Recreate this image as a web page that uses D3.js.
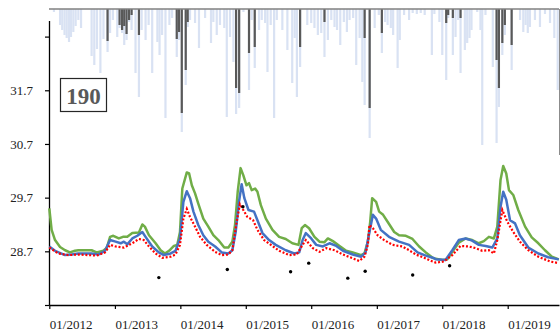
<!DOCTYPE html>
<html lang="en">
<head>
<meta charset="utf-8">
<title>Piezometer 190</title>
<script src="https://cdn.jsdelivr.net/npm/d3@7"></script>
<style>
  body { margin: 0; background: #fff; }
  text { font-family: "Liberation Serif", "Times New Roman", serif; }
</style>
</head>
<body>
<script>

// rain bars (mm): total and effective
var rainDates = ["2012-01-27","2012-03-01","2012-03-13","2012-03-26","2012-04-07","2012-04-20","2012-05-01","2012-05-14","2012-05-27","2012-06-11","2012-06-26","2012-08-24","2012-09-08","2012-09-23","2012-10-12","2012-10-29","2012-11-21","2012-12-05","2012-12-21",
  "2013-01-14","2013-01-27","2013-02-10","2013-02-22","2013-03-07","2013-03-21","2013-04-04","2013-04-26","2013-05-15","2013-05-30","2013-06-21","2013-07-08","2013-07-28","2013-08-26","2013-09-07","2013-09-21","2013-10-10","2013-11-01","2013-11-16","2013-12-12","2013-12-25",
  "2014-01-09","2014-01-31","2014-02-11","2014-02-24","2014-03-24","2014-04-15","2014-05-19","2014-06-21","2014-07-04","2014-07-23","2014-08-10","2014-09-03","2014-09-17","2014-10-05","2014-10-24","2014-11-08","2014-11-25","2014-12-19",
  "2015-01-19","2015-02-03","2015-02-20","2015-03-16","2015-03-31","2015-04-19","2015-05-02","2015-05-20","2015-06-08","2015-06-23","2015-07-24","2015-08-21","2015-09-17","2015-10-01","2015-10-13","2015-10-31","2015-12-10",
  "2016-01-01","2016-01-19","2016-02-07","2016-02-26","2016-03-15","2016-04-03","2016-04-22","2016-05-10","2016-05-24","2016-06-11","2016-07-01","2016-07-18","2016-08-02","2016-08-22","2016-09-08","2016-09-27","2016-10-12","2016-10-25","2016-11-22","2016-12-20",
  "2017-01-12","2017-01-29","2017-02-16","2017-03-02","2017-03-20","2017-04-02","2017-04-27","2017-05-09","2017-06-02","2017-06-30","2017-07-20","2017-08-12","2017-09-03","2017-09-25","2017-11-04","2017-11-18","2017-12-16",
  "2018-01-01","2018-01-23","2018-02-03","2018-03-01","2018-03-16","2018-03-31","2018-04-13","2018-05-07","2018-05-20","2018-06-02","2018-06-13","2018-07-15","2018-08-02","2018-08-12","2018-08-30","2018-10-10","2018-10-31","2018-11-13","2018-12-02","2018-12-16",
  "2019-01-23","2019-03-11","2019-03-29","2019-04-11","2019-04-23","2019-05-05","2019-06-02","2019-06-30","2019-07-28","2019-08-25","2019-09-18","2019-10-07"];
var rainTotal = [3,16,21,26,29,33,28,23,17,11,19,47,56,40,64,30,43,24,11,
  28,19,24,36,31,13,21,64,88,21,31,16,64,33,46,26,109,16,9,48,31,
  123,76,18,11,14,39,9,34,13,26,16,19,108,28,53,105,99,3,
  81,11,59,21,11,14,63,16,109,11,21,41,74,29,88,58,16,
  14,19,26,24,48,31,11,18,21,36,13,23,11,9,56,29,73,96,129,19,
  6,44,13,16,19,26,59,31,6,11,4,5,4,6,46,5,13,
  46,71,9,46,28,11,64,41,34,29,21,3,21,136,6,58,134,98,46,26,
  61,11,23,16,24,18,11,18,5,14,29,81];
var rainEffective = [0,0,0,0,0,0,0,0,0,0,0,0,0,0,0,0,32,0,0,
  0,16,21,17,25,11,6,0,26,0,0,0,0,0,0,0,0,0,0,30,23,
  104,61,13,0,0,0,0,0,0,0,0,0,0,0,0,79,84,0,
  44,0,38,0,0,0,0,0,0,0,0,0,0,0,0,38,0,
  0,0,0,0,13,0,0,0,0,0,0,0,0,0,0,0,0,29,99,0,
  0,24,0,0,0,0,0,0,0,0,0,0,0,0,0,0,0,
  0,14,6,9,0,0,9,0,0,0,0,0,0,0,0,0,51,79,34,16,
  36,0,0,0,0,0,0,0,0,0,0,0];

// groundwater level series [date, m]
var levelGreen = [["2012-01-01",29.50],["2012-01-14",29.10],["2012-02-02",28.91],["2012-03-01",28.78],["2012-03-29",28.72],["2012-04-25",28.68],["2012-05-23",28.71],["2012-06-11",28.72],["2012-08-24",28.72],["2012-09-21",28.68],["2012-10-28",28.71],["2012-11-16",28.76],["2012-12-05",28.97],["2012-12-23",28.99],
  ["2013-01-23",28.94],["2013-02-15",28.97],["2013-03-11",28.97],["2013-04-08",29.04],["2013-05-15",29.05],["2013-06-03",29.20],["2013-06-17",29.16],["2013-07-10",29.00],["2013-08-16",28.85],["2013-09-13",28.72],["2013-10-07",28.66],["2013-10-30",28.71],["2013-11-26",28.80],["2013-12-15",28.82],["2013-12-30",29.06],
  ["2014-01-12",29.87],["2014-02-06",30.17],["2014-02-19",30.15],["2014-03-06",29.93],["2014-03-24",29.78],["2014-04-11",29.59],["2014-05-09",29.31],["2014-06-06",29.16],["2014-07-04",29.00],["2014-08-01",28.91],["2014-09-03",28.77],["2014-09-26",28.77],["2014-10-18",28.88],["2014-11-02",29.19],["2014-11-17",29.81],["2014-12-03",30.25],["2014-12-18",30.12],
  ["2015-01-05",29.93],["2015-01-19",29.97],["2015-02-03",29.84],["2015-02-22",29.87],["2015-03-07",29.81],["2015-03-26",29.56],["2015-04-23",29.31],["2015-05-30",29.10],["2015-07-06",28.97],["2015-08-12",28.93],["2015-09-18",28.85],["2015-10-22",28.82],["2015-11-09",29.13],["2015-11-27",29.19],["2015-12-20",29.13],
  ["2016-01-19",28.97],["2016-02-16",28.88],["2016-03-15",28.87],["2016-04-03",28.94],["2016-05-01",28.89],["2016-06-07",28.80],["2016-07-14",28.71],["2016-08-20",28.68],["2016-10-06",28.63],["2016-10-24",28.66],["2016-11-12",28.88],["2016-11-25",29.25],["2016-12-06",29.69],["2016-12-28",29.62],
  ["2017-01-14",29.44],["2017-02-05",29.38],["2017-03-02",29.25],["2017-04-08",29.06],["2017-05-05",29.00],["2017-06-12",28.99],["2017-07-19",28.93],["2017-08-25",28.79],["2017-10-01",28.68],["2017-11-08",28.58],["2017-11-26",28.56],
  ["2018-01-01",28.54],["2018-01-29",28.55],["2018-02-26",28.69],["2018-04-03",28.86],["2018-05-11",28.94],["2018-06-17",28.91],["2018-07-24",28.85],["2018-08-21",28.89],["2018-09-18",28.97],["2018-10-16",28.94],["2018-11-04",29.16],["2018-11-22",30.03],["2018-12-07",30.29],["2018-12-24",30.15],
  ["2019-01-08",29.84],["2019-02-01",29.75],["2019-03-01",29.47],["2019-04-08",29.16],["2019-05-15",28.96],["2019-06-21",28.85],["2019-07-28",28.72],["2019-09-04",28.60],["2019-10-13",28.55]];

var levelBlue = [["2012-01-01",28.79],["2012-02-02",28.71],["2012-03-29",28.63],["2012-05-05",28.64],["2012-06-11",28.66],["2012-08-24",28.66],["2012-09-30",28.64],["2012-11-07",28.71],["2012-12-05",28.91],
  ["2013-01-05",28.88],["2013-02-02",28.85],["2013-02-20",28.88],["2013-03-11",28.83],["2013-04-08",28.94],["2013-05-06",28.99],["2013-06-03",29.06],["2013-06-21",28.97],["2013-07-28",28.79],["2013-09-03",28.68],["2013-10-01",28.63],["2013-11-08",28.66],["2013-12-05",28.71],["2013-12-30",28.94],
  ["2014-01-18",29.62],["2014-02-06",29.82],["2014-02-24",29.69],["2014-03-15",29.44],["2014-04-11",29.19],["2014-05-09",29.00],["2014-06-06",28.88],["2014-07-14",28.79],["2014-08-20",28.68],["2014-09-26",28.66],["2014-10-18",28.72],["2014-11-06",29.07],["2014-11-24",29.62],["2014-12-09",29.95],["2014-12-24",29.69],
  ["2015-01-16",29.47],["2015-02-16",29.44],["2015-03-07",29.28],["2015-04-04",29.04],["2015-05-11",28.91],["2015-06-17",28.82],["2015-08-12",28.72],["2015-09-28",28.66],["2015-10-26",28.68],["2015-11-14",28.91],["2015-12-02",29.04],
  ["2016-01-01",28.94],["2016-01-29",28.82],["2016-03-06",28.79],["2016-04-12",28.85],["2016-05-20",28.80],["2016-06-26",28.71],["2016-08-20",28.64],["2016-10-06",28.60],["2016-10-30",28.68],["2016-11-21",29.06],["2016-12-10",29.38],["2016-12-28",29.31],
  ["2017-01-23",29.10],["2017-03-10",28.97],["2017-05-05",28.88],["2017-06-30",28.82],["2017-08-16",28.68],["2017-10-01",28.62],["2017-11-17",28.57],["2017-11-26",28.55],
  ["2018-01-19",28.54],["2018-02-26",28.72],["2018-04-03",28.91],["2018-05-11",28.94],["2018-06-17",28.90],["2018-07-24",28.82],["2018-08-31",28.80],["2018-10-07",28.77],["2018-11-04",28.94],["2018-11-22",29.53],["2018-12-07",29.81],["2018-12-24",29.66],
  ["2019-01-14",29.28],["2019-02-11",29.22],["2019-03-10",29.00],["2019-04-26",28.77],["2019-06-21",28.66],["2019-08-15",28.59],["2019-10-13",28.55]];

var levelRed = [["2012-01-01",28.77],["2012-02-20",28.66],["2012-04-16",28.63],["2012-06-11",28.64],["2012-08-05",28.63],["2012-09-21",28.62],["2012-11-07",28.68],["2012-12-05",28.82],
  ["2013-01-05",28.79],["2013-02-20",28.77],["2013-04-08",28.85],["2013-05-15",28.93],["2013-06-11",28.91],["2013-07-10",28.79],["2013-08-16",28.66],["2013-09-22",28.58],["2013-11-08",28.60],["2013-12-05",28.64],["2013-12-30",28.82],
  ["2014-01-18",29.31],["2014-02-06",29.49],["2014-02-24",29.34],["2014-03-24",29.16],["2014-04-21",28.97],["2014-05-28",28.82],["2014-07-14",28.69],["2014-08-20",28.63],["2014-09-26",28.64],["2014-10-18",28.72],["2014-11-10",29.22],["2014-11-29",29.58],["2014-12-18",29.47],
  ["2015-01-10",29.34],["2015-02-11",29.28],["2015-03-07",29.10],["2015-04-13",28.91],["2015-05-21",28.82],["2015-07-06",28.71],["2015-08-31",28.63],["2015-10-12",28.64],["2015-11-14",28.82],["2015-12-02",28.91],
  ["2016-01-10",28.76],["2016-02-16",28.69],["2016-03-25",28.76],["2016-05-10",28.72],["2016-06-26",28.64],["2016-08-20",28.57],["2016-09-25",28.52],["2016-10-24",28.60],["2016-11-12",28.82],["2016-11-21",29.19],["2016-12-10",29.13],
  ["2017-01-05",29.00],["2017-02-11",28.91],["2017-03-30",28.82],["2017-05-24",28.79],["2017-06-30",28.72],["2017-08-07",28.64],["2017-09-22",28.58],["2017-11-08",28.51],["2017-11-26",28.49],
  ["2018-01-10",28.51],["2018-02-26",28.63],["2018-04-13",28.80],["2018-05-29",28.79],["2018-07-06",28.76],["2018-08-12",28.71],["2018-09-18",28.72],["2018-10-16",28.66],["2018-11-04",28.91],["2018-12-02",29.47],["2018-12-30",29.25],
  ["2019-02-01",29.06],["2019-03-10",28.88],["2019-04-26",28.72],["2019-06-21",28.60],["2019-08-25",28.51],["2019-10-13",28.48]];

// field measurements
var obsDates = ["2013-09-03","2014-09-20","2014-12-16","2015-09-08","2015-12-18","2016-07-23","2016-10-28","2017-07-20","2018-02-11"];
var obsLevels = [28.21,28.36,29.53,28.32,28.48,28.20,28.33,28.26,28.43];

var yTickValues = [27.7, 28.7, 29.7, 30.7, 31.7, 32.7];
var yTickLabels = ["", "28.7", "29.7", "30.7", "31.7", ""];
var xTickYears = [2012, 2013, 2014, 2015, 2016, 2017, 2018, 2019];
var stationLabel = "190";

//Width and height
var w = 560;
var h = 335;

var parse = d3.utcParse("%Y-%m-%d");

// 01/2012 tick at 49.3, 01/2019 at 507.7, plot ends at 559
var left = 49.3, tick2019 = 507.7, right = 559;
var t0 = parse("2012-01-01"), t7 = parse("2019-01-01");
var tEnd = new Date(+t0 + (t7 - t0) * (right - left) / (tick2019 - left));

var x = d3.scaleUtc().domain([t0, tEnd]).range([left, right]);
var y = d3.scaleLinear().domain([27.7, 33.0]).range([305, 20.5]);
var rainTop = 9;
var rainH = d3.scaleLinear().domain([0, 150]).range([0, 150]);

var svg = d3.select("body")
  .append("svg")
  .attr("width", w)
  .attr("height", h);

var barW = 2.2;

// rain bars hanging from the top
svg.append("g")
  .selectAll("rect")
  .data(rainDates)
  .enter()
  .append("rect")
  .attr("x", function (d) { return x(parse(d)) - barW / 2; })
  .attr("y", rainTop)
  .attr("width", barW)
  .attr("height", function (d, i) { return rainH(rainTotal[i]); })
  .attr("fill", "#d9e2f3");

svg.append("g")
  .selectAll("rect")
  .data(rainDates.filter(function (d, i) { return rainEffective[i] > 0; }))
  .enter()
  .append("rect")
  .attr("x", function (d) { return x(parse(d)) - barW / 2; })
  .attr("y", rainTop)
  .attr("width", barW)
  .attr("height", function (d) { return rainH(rainEffective[rainDates.indexOf(d)]); })
  .attr("fill", "#595959");

// frame of the rain plot
svg.append("line")
  .attr("x1", 49).attr("x2", right)
  .attr("y1", rainTop).attr("y2", rainTop)
  .attr("stroke", "#808080").attr("stroke-width", 1.5);
svg.append("line")
  .attr("x1", right + 0.5).attr("x2", right + 0.5)
  .attr("y1", rainTop).attr("y2", 155)
  .attr("stroke", "#8c8c8c").attr("stroke-width", 1);

// axes
var yAxis = d3.axisLeft(y)
  .tickValues(yTickValues)
  .tickFormat(function (d, i) { return yTickLabels[i]; })
  .tickSize(4)
  .tickSizeOuter(0);

var gy = svg.append("g")
  .attr("transform", "translate(49,0)")
  .call(yAxis);
gy.select(".domain").attr("stroke", "#000").attr("stroke-width", 1.3);
gy.selectAll(".tick line").attr("stroke", "#000").attr("stroke-width", 1.2);
gy.selectAll(".tick text")
  .attr("x", -16)
  .style("font-size", "13px")
  .style("font-family", "'Liberation Serif', 'Times New Roman', serif")
  .attr("fill", "#222");

var xAxis = d3.axisBottom(x)
  .tickValues(xTickYears.map(function (yr) { return new Date(Date.UTC(yr, 0, 1)); }))
  .tickFormat(d3.utcFormat("%m/%Y"))
  .tickSize(4)
  .tickSizeOuter(0);

var gx = svg.append("g")
  .attr("transform", "translate(0,305)")
  .call(xAxis);
gx.select(".domain").attr("stroke", "#000").attr("stroke-width", 1.3);
gx.selectAll(".tick line").attr("stroke", "#000").attr("stroke-width", 1.2);
gx.selectAll(".tick text")
  .attr("text-anchor", "start")
  .attr("x", 0)
  .attr("y", 24)
  .attr("dy", null)
  .style("font-size", "13px")
  .style("font-family", "'Liberation Serif', 'Times New Roman', serif")
  .attr("fill", "#222");

// level lines
var line = d3.line()
  .x(function (d) { return x(parse(d[0])); })
  .y(function (d) { return y(d[1]); });

svg.append("path")
  .datum(levelGreen)
  .attr("d", line)
  .attr("fill", "none")
  .attr("stroke", "#70ad47")
  .attr("stroke-width", 2.5)
  .attr("stroke-linejoin", "round");

svg.append("path")
  .datum(levelBlue)
  .attr("d", line)
  .attr("fill", "none")
  .attr("stroke", "#4472c4")
  .attr("stroke-width", 2.5)
  .attr("stroke-linejoin", "round");

svg.append("path")
  .datum(levelRed)
  .attr("d", line)
  .attr("fill", "none")
  .attr("stroke", "#ff0000")
  .attr("stroke-width", 2.2)
  .attr("stroke-dasharray", "2 1.8");

// observed points
svg.append("g")
  .selectAll("circle")
  .data(obsDates)
  .enter()
  .append("circle")
  .attr("cx", function (d) { return x(parse(d)); })
  .attr("cy", function (d, i) { return y(obsLevels[i]); })
  .attr("r", 1.7)
  .attr("fill", "#000");

// station label
svg.append("rect")
  .attr("x", 60.5).attr("y", 78.5)
  .attr("width", 46).attr("height", 33)
  .attr("fill", "#fff")
  .attr("stroke", "#262626")
  .attr("stroke-width", 1.2);
svg.append("text")
  .attr("x", 83.5).attr("y", 104)
  .attr("text-anchor", "middle")
  .style("font-size", "23px")
  .style("font-weight", "bold")
  .attr("fill", "#595959")
  .text(stationLabel);

</script>
</body>
</html>
